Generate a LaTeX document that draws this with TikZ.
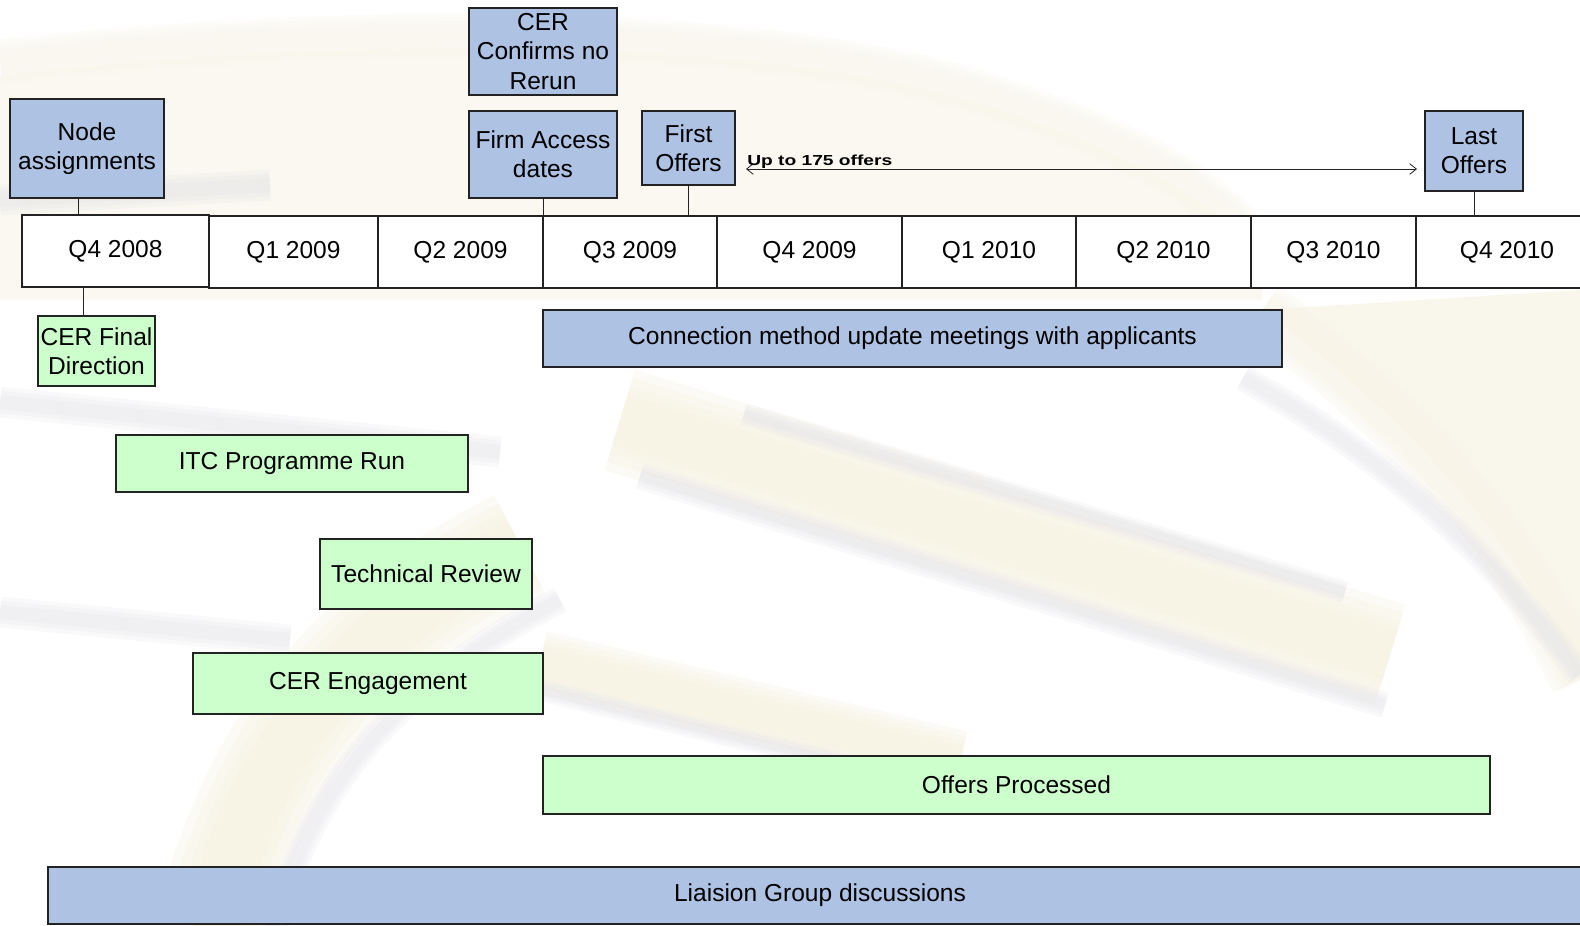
\documentclass[tikz,border=0pt]{standalone}
\usepackage{fontspec}
\usepackage{graphicx}
\setmainfont{Liberation Sans}
\usetikzlibrary{arrows.meta,calc}
\definecolor{boxblue}{RGB}{174,194,228}
\definecolor{boxgreen}{RGB}{204,255,204}
\definecolor{edge}{RGB}{35,35,35}
\definecolor{wmbeige}{RGB}{245,240,222}
\definecolor{wmgrey}{RGB}{222,222,230}
\newcommand\wmsoft[3]{%
  \foreach \f in {1.5,1.25,1.0,0.75} {\draw[draw=#1, opacity=0.28, line cap=butt, line width=\f*#2*0.75pt] #3;}}
\newcommand\wmshadow[2]{%
  \foreach \f in {2.2,1.6,1.0} {\draw[draw=wmgrey, opacity=0.16, line cap=butt, line width=\f*#1*0.75pt] #2;}}
\tikzset{
  rectat/.style n args={4}{minimum width={(#3-#1)*0.75pt}, minimum height={(#4-#2)*0.75pt}, at={({(#1+#3)/2},{(#2+#4)/2})}},
  basebox/.style={draw=edge, line width=0.9pt, inner sep=0pt, align=center, font=\fontsize{18.4pt}{22pt}\selectfont},
  bluebox/.style={basebox, fill=boxblue},
  greenbox/.style={basebox, fill=boxgreen},
  cell/.style={basebox, fill=white},
  link/.style={draw=edge, line width=0.75pt},
}
\begin{document}
\begin{tikzpicture}[x=0.75pt,y=-0.75pt]
\useasboundingbox (0,0) rectangle (1580,925);
\clip (0,0) rectangle (1580,925);
\fill[white] (0,0) rectangle (1580,925);

% faint, soft watermark in the background
\fill[wmbeige!45!white] (0,75) .. controls (400,30) and (800,42) .. (1000,110)
  .. controls (1150,160) and (1230,210) .. (1262,270) -- (1262,300) -- (0,300) -- cycle;
\wmsoft{wmbeige!60!white}{30}{(0,62) .. controls (400,18) and (800,30) .. (1000,100) .. controls (1150,150) and (1230,200) .. (1262,260)}
\wmshadow{14}{(0,200) -- (270,185)}
\fill[wmbeige!60!white] (1262,310) .. controls (1410,420) and (1510,530) .. (1580,680) -- (1580,290) -- cycle;
\wmsoft{wmbeige!70!white}{40}{(1262,310) .. controls (1410,420) and (1510,530) .. (1580,680)}
\wmshadow{12}{(1243,378) .. controls (1400,465) and (1500,565) .. (1580,675)}
\wmsoft{wmbeige}{70}{(620,420) -- (1390,655)}
\wmshadow{10}{(744,414) -- (1345,592)}
\wmshadow{12}{(640,476) -- (1385,705)}
\wmsoft{wmbeige}{42}{(540,662) -- (960,762)}
\wmshadow{10}{(540,690) -- (960,792)}
\wmsoft{wmbeige}{75}{(210,930) .. controls (255,760) and (335,640) .. (520,545)}
\wmshadow{12}{(275,930) .. controls (305,800) and (385,690) .. (560,600)}
\wmshadow{14}{(0,402) -- (500,452)}
\wmshadow{14}{(0,612) -- (290,640)}

% milestone boxes above the timeline
\node[bluebox, rectat={10}{99}{164}{198}] (nodeA) {Node\\assignments};
\node[bluebox, rectat={469}{8}{617}{95}] (cerconf) {CER\\Confirms no\\Rerun};
\node[bluebox, rectat={469}{111}{617}{198}] (firm) {Firm Access\\dates};
\node[bluebox, rectat={642}{111}{735}{185}] (first) {First\\Offers};
\node[bluebox, rectat={1425}{111}{1523}{191}] (last) {Last\\Offers};

% timeline
\node[cell, rectat={22}{215}{209}{287}] (t0) {Q4 2008};
\node[cell, rectat={209}{216}{378}{288}] (t1) {Q1 2009};
\node[cell, rectat={378}{216}{543}{288}] (t2) {Q2 2009};
\node[cell, rectat={543}{216}{717}{288}] (t3) {Q3 2009};
\node[cell, rectat={717}{216}{902}{288}] (t4) {Q4 2009};
\node[cell, rectat={902}{216}{1076}{288}] (t5) {Q1 2010};
\node[cell, rectat={1076}{216}{1251}{288}] (t6) {Q2 2010};
\node[cell, rectat={1251}{216}{1416}{288}] (t7) {Q3 2010};
\node[cell, rectat={1416}{216}{1598}{288}] (t8) {Q4 2010};

% activities
\node[greenbox, rectat={38}{316}{155}{386}] (cerfinal) {CER Final\\Direction};
\node[bluebox, rectat={543}{310}{1282}{367}] (conn) {Connection method update meetings with applicants};
\node[greenbox, rectat={116}{435}{468}{492}] (itc) {ITC Programme Run};
\node[greenbox, rectat={320}{539}{532}{609}] (tech) {Technical Review};
\node[greenbox, rectat={193}{653}{543}{714}] (ceng) {CER Engagement};
\node[greenbox, rectat={543}{756}{1490}{814}] (offers) {Offers Processed};
\node[bluebox, rectat={48}{867}{1592}{924}] (liaison) {Liaision Group discussions};

% connectors
\draw[link] ([xshift=-6.75pt]nodeA.south) -- ([xshift=-6.75pt]nodeA.south |- t0.north);
\draw[link] (firm.south) -- (firm.south |- t3.north);
\draw[link] (first.south) -- (first.south |- t3.north);
\draw[link] (last.south) -- (last.south |- t8.north);
\draw[link] ([xshift=-10pt]cerfinal.north) -- ([xshift=-10pt]cerfinal.north |- t0.south);

% offers span arrow
\coordinate (spanL) at (746,169);
\coordinate (spanR) at (1417,169);
\draw[draw=edge, line width=0.6pt, {Straight Barb[length=5pt,width=8pt]}-{Straight Barb[length=5pt,width=8pt]}] (spanL) -- (spanR);
\node[anchor=base west, inner sep=0pt] (spanlbl) at (747,165) {\scalebox{1.32}[1]{\fontsize{10.9pt}{12pt}\selectfont\bfseries Up to 175 offers}};
\end{tikzpicture}
\end{document}
